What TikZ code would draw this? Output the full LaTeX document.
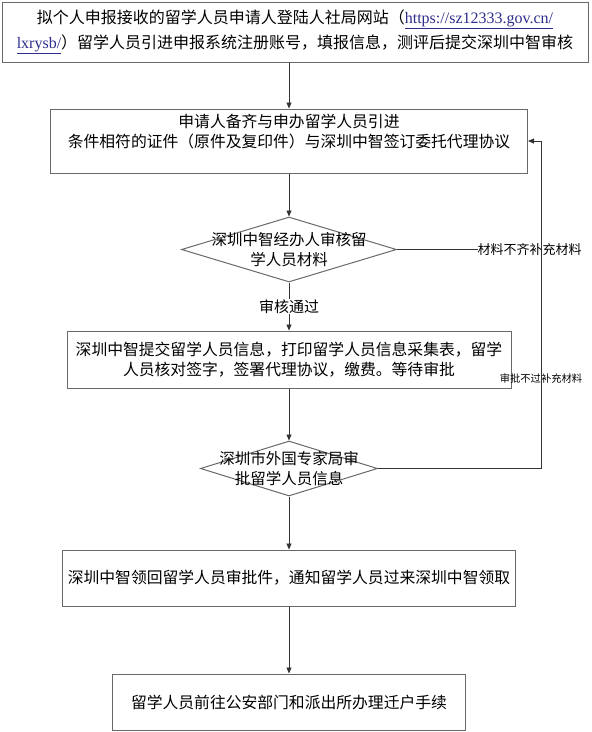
\documentclass[tikz,border=0pt]{standalone}
\usepackage{fontspec}
\setmainfont{Noto Sans CJK SC}
\newfontfamily\latinserif{Liberation Serif}
\usetikzlibrary{arrows.meta,positioning,shapes.geometric}
\definecolor{framegray}{RGB}{105,105,105}
\definecolor{linkblue}{RGB}{45,45,140}
\newcommand{\weblink}[1]{\textcolor{linkblue}{\underline{\latinserif #1}}}

\begin{document}
\begin{tikzpicture}[x=1pt,y=1pt,>={Triangle[length=6pt,width=5pt]},
  box/.style={draw=framegray,line width=1pt,align=center,inner sep=1pt,
    font=\fontsize{15.8}{19.5}\selectfont},
  choice/.style={draw=framegray,line width=1pt,diamond,inner sep=0pt},
  flow/.style={draw=black!80,line width=.8pt}]
\useasboundingbox (0,0) rectangle (592,-732);
\node[box,minimum width=586pt,minimum height=60pt,
  font=\fontsize{16}{25}\selectfont] (enrol) at (295,-32)
  {拟个人申报接收的留学人员申请人登陆人社局网站（\weblink{https://sz12333.gov.cn/}\\
   \weblink{lxrysb/}）留学人员引进申报系统注册账号，填报信息，测评后提交深圳中智审核};
\node[box,below=46pt of enrol,xshift=-6pt,minimum width=477pt,minimum height=64pt] (apply)
  {申请人备齐与申办留学人员引进\\条件相符的证件（原件及复印件）与深圳中智签订委托代理协议\\[1pt]\mbox{}};
\node[choice,below=43pt of apply,minimum width=215pt,minimum height=65pt,
  label={[align=center,font=\fontsize{15.5}{20}\selectfont]center:深圳中智经办人审核留\\学人员材料}] (check) {};
\node[box,below=48pt of check,minimum width=444pt,minimum height=57pt] (review)
  {深圳中智提交留学人员信息，打印留学人员信息采集表，留学\\人员核对签字，签署代理协议，缴费。等待审批};
\node[choice,below=52pt of review,minimum width=177pt,minimum height=55pt,
  label={[align=center,font=\fontsize{15.5}{19.5}\selectfont]center:深圳市外国专家局审\\批留学人员信息}] (verify) {};
\node[box,below=53pt of verify,minimum width=453pt,minimum height=56pt] (collect)
  {深圳中智领回留学人员审批件，通知留学人员过来深圳中智领取};
\node[box,below=67pt of collect,minimum width=353pt,minimum height=56pt] (settle)
  {留学人员前往公安部门和派出所办理迁户手续};

% side notes and the return line
\coordinate (back) at (541,0);
\node[anchor=west,inner sep=0pt,font=\fontsize{13}{15}\selectfont]
  (missing) at ([xshift=80.5pt]check.east) {材料不齐补充材料};
\node[inner sep=0pt,font=\fontsize{10.3}{12}\selectfont]
  (reject) at ([yshift=10pt]review.south -| back) {审批不过补充材料};

\draw[flow,->] (enrol.south -| apply.north) -- (apply.north);
\draw[flow,->] (apply) -- (check);
\draw[flow,->] (check) -- node[fill=white,inner sep=1pt,font=\fontsize{15}{17}\selectfont] (pass) {审核通过} (review);
\draw[flow,->] (review) -- (verify);
\draw[flow,->] (verify) -- (collect);
\draw[flow,->] (collect) -- (settle);
\draw[flow] (check.east) -- (missing.west);
\draw[flow,->] (verify.east) -- (verify.east -| back) -- (apply.east -| back) -- (apply.east);
\end{tikzpicture}
\end{document}
